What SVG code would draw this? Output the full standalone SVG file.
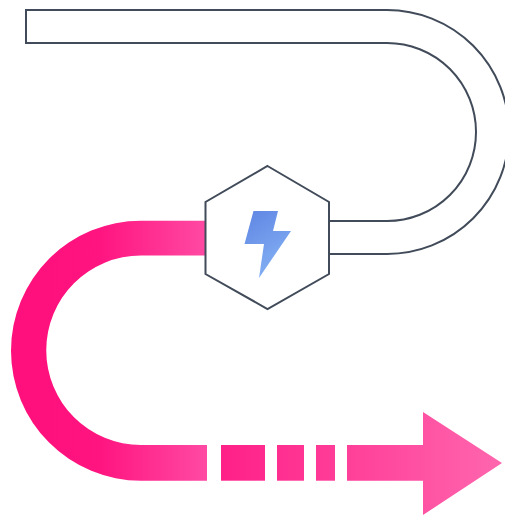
<svg xmlns="http://www.w3.org/2000/svg" width="505" height="515" viewBox="0 0 505 515">
<style>
.ln{fill:#fff;stroke:#414b59;stroke-width:2;stroke-linejoin:miter}
</style>
<defs>
<linearGradient id="g1" gradientUnits="userSpaceOnUse" x1="11" y1="0" x2="207" y2="0"><stop offset="0" stop-color="#ff0f7b"/><stop offset="0.45" stop-color="#ff1480"/><stop offset="1" stop-color="#ff4aa3"/></linearGradient>
<linearGradient id="g2" gradientUnits="userSpaceOnUse" x1="221" y1="0" x2="502" y2="0"><stop offset="0" stop-color="#ff2088"/><stop offset="1" stop-color="#ff66ae"/></linearGradient>
<linearGradient id="b" gradientUnits="userSpaceOnUse" x1="245" y1="211" x2="285" y2="270"><stop offset="0" stop-color="#5f85e3"/><stop offset="1" stop-color="#85b2f4"/></linearGradient>
</defs>
<g id="connectors">
<path id="grey-pipe" class="ln" d="M329 221H387A89 89 0 0 0 387 43H26V10H387A122 122 0 0 1 387 254H329"/>
<path id="pink-curve" fill="url(#g1)" d="M207 220.700H141A129.700 129.700 0 0 0 141 480.700H207V445H141A94.500 94.500 0 0 1 141 255.500H207Z"/>
<g id="pink-arrow" fill="url(#g2)">
<rect x="221" y="445" width="44" height="35.700"/>
<rect x="277" y="445" width="27" height="35.700"/>
<rect x="316" y="445" width="19" height="35.700"/>
<path d="M347 445H423V412L502 463L423 515V480.700H347Z"/>
</g>
</g>
<g id="hexagon">
<path class="ln" d="M267.500 166L329 202V274L267.500 309L205.500 274V202Z"/>
<path fill="url(#b)" d="M253.500 211H278L273 231H291L259 278L264 244H244.500Z"/>
</g>
</svg>
